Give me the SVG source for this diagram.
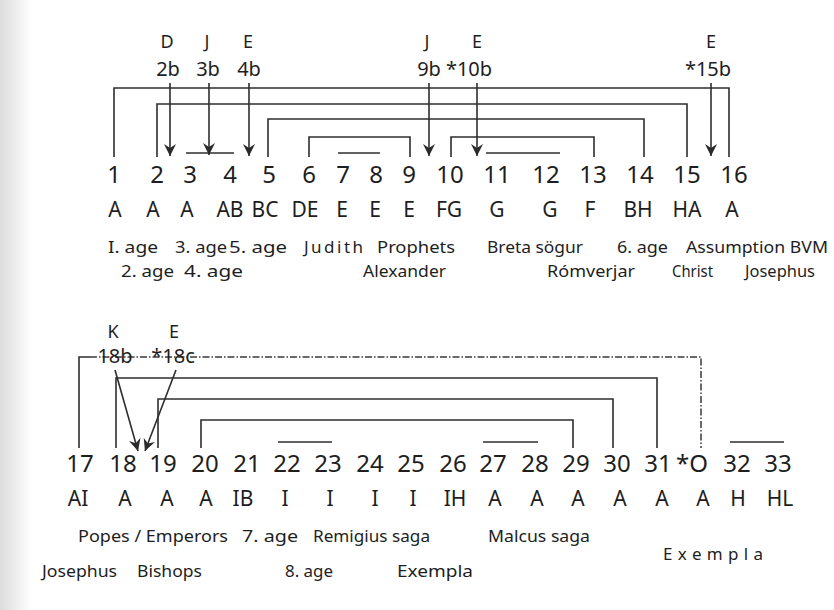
<svg xmlns="http://www.w3.org/2000/svg" width="834" height="610" viewBox="0 0 834 610">
<defs>
<linearGradient id="edge" x1="0" y1="0" x2="1" y2="0">
<stop offset="0" stop-color="#dcdcdc"/>
<stop offset="1" stop-color="#ffffff"/>
</linearGradient>
<marker id="ah" markerUnits="userSpaceOnUse" markerWidth="14" markerHeight="14" viewBox="0 0 14 14" refX="7" refY="13" orient="auto-start-reverse">
<path d="M1,1 L7,13 L13,1 L7,5 Z" fill="#2a2a2a" transform="rotate(-90 7 7)"/>
</marker>
<marker id="ah2" markerUnits="userSpaceOnUse" markerWidth="14" markerHeight="14" viewBox="0 0 14 14" refX="13" refY="7" orient="auto">
<path d="M1,1 L13,7 L1,13 L5,7 Z" fill="#2a2a2a"/>
</marker>
</defs>
<style>
.ln{fill:none;stroke:#2e2e2e;stroke-width:1.6}
.dd{fill:none;stroke:#3a3a3a;stroke-width:1.5;stroke-dasharray:7,2,1.5,2}
.ar{fill:none;stroke:#2e2e2e;stroke-width:1.6;marker-end:url(#ah2)}
.num{font-family:"Noto Sans","Open Sans",sans-serif;font-size:24px;fill:#1e1e1e;text-anchor:middle}
.let{font-family:"Noto Sans","Open Sans",sans-serif;font-size:21px;fill:#1e1e1e;text-anchor:middle}
.lab{font-family:"Noto Sans","Open Sans",sans-serif;font-size:17px;fill:#1e1e1e}
.sig{font-family:"Noto Sans","Open Sans",sans-serif;font-size:18px;fill:#1e1e1e;text-anchor:middle}
.sib{font-family:"Noto Sans","Open Sans",sans-serif;font-size:20px;fill:#1e1e1e;text-anchor:middle}
</style>
<rect width="834" height="610" fill="#ffffff"/>
<rect x="0" y="0" width="32" height="610" fill="url(#edge)"/>

<g id="connectors">
<!-- top brackets -->
<path class="ln" d="M114,157 V88 H729 V157"/>
<path class="ln" d="M157,157 V104 H687 V157"/>
<path class="ln" d="M268,157 V119 H644 V157"/>
<path class="ln" d="M309,157 V137 H410 V157"/>
<path class="ln" d="M451,157 V137 H594 V157"/>
<path class="ln" d="M186,153 H234"/>
<path class="ln" d="M338,153 H380"/>
<path class="ln" d="M486,153 H560"/>
<!-- top arrows -->
<path class="ar" d="M170,83 V156"/>
<path class="ar" d="M209,83 V155"/>
<path class="ar" d="M249,83 V156"/>
<path class="ar" d="M429,83 V156"/>
<path class="ar" d="M477,83 V156"/>
<path class="ar" d="M711,83 V156"/>
<!-- bottom brackets -->
<path class="ln" d="M79,448 V357 H90"/>
<path class="dd" d="M90,357 H701 V448"/>
<path class="ln" d="M116,448 V378 H657 V448"/>
<path class="ln" d="M158,448 V399 H613 V448"/>
<path class="ln" d="M201,448 V420 H573 V448"/>
<path class="ln" d="M278,442 H332"/>
<path class="ln" d="M483,442 H538"/>
<path class="ln" d="M730,442 H784"/>
<!-- bottom arrows -->
<path class="ar" d="M115,370 L138,451"/>
<path class="ar" d="M176,370 L145,451"/>
</g>

<g id="sigla-top">
<text class="sig" x="167" y="48">D</text>
<text class="sig" x="207" y="48">J</text>
<text class="sig" x="248" y="48">E</text>
<text class="sib" x="168" y="76">2b</text>
<text class="sib" x="208" y="76">3b</text>
<text class="sib" x="249" y="76">4b</text>
<text class="sig" x="427" y="48">J</text>
<text class="sig" x="477" y="48">E</text>
<text class="sib" x="429" y="76">9b</text>
<text class="sib" x="469" y="76">*10b</text>
<text class="sig" x="711" y="48">E</text>
<text class="sib" x="708" y="76">*15b</text>
</g>

<g id="numbers-top">
<text class="num" x="114" y="183">1</text>
<text class="num" x="157" y="183">2</text>
<text class="num" x="190" y="183">3</text>
<text class="num" x="230" y="183">4</text>
<text class="num" x="269" y="183">5</text>
<text class="num" x="309" y="183">6</text>
<text class="num" x="343" y="183">7</text>
<text class="num" x="376" y="183">8</text>
<text class="num" x="409" y="183">9</text>
<text class="num" x="450" y="183">10</text>
<text class="num" x="497" y="183">11</text>
<text class="num" x="546" y="183">12</text>
<text class="num" x="593" y="183">13</text>
<text class="num" x="640" y="183">14</text>
<text class="num" x="687" y="183">15</text>
<text class="num" x="734" y="183">16</text>
</g>

<g id="letters-top">
<text class="let" x="115" y="217">A</text>
<text class="let" x="153" y="217">A</text>
<text class="let" x="187" y="217">A</text>
<text class="let" x="230" y="217">AB</text>
<text class="let" x="265" y="217">BC</text>
<text class="let" x="305" y="217">DE</text>
<text class="let" x="342" y="217">E</text>
<text class="let" x="375" y="217">E</text>
<text class="let" x="409" y="217">E</text>
<text class="let" x="449" y="217">FG</text>
<text class="let" x="497" y="217">G</text>
<text class="let" x="550" y="217">G</text>
<text class="let" x="590" y="217">F</text>
<text class="let" x="638" y="217">BH</text>
<text class="let" x="687" y="217">HA</text>
<text class="let" x="732" y="217">A</text>
</g>

<g id="labels-top">
<text class="lab" x="108" y="253" textLength="50" lengthAdjust="spacingAndGlyphs">I. age</text>
<text class="lab" x="175" y="253" textLength="52" lengthAdjust="spacingAndGlyphs">3. age</text>
<text class="lab" x="229" y="253" textLength="58" lengthAdjust="spacingAndGlyphs">5. age</text>
<text class="lab" x="304" y="253" textLength="59" lengthAdjust="spacing">J u d i t h</text>
<text class="lab" x="377" y="253" textLength="78" lengthAdjust="spacingAndGlyphs">Prophets</text>
<text class="lab" x="487" y="253" textLength="96" lengthAdjust="spacingAndGlyphs">Breta sögur</text>
<text class="lab" x="617" y="253" textLength="51" lengthAdjust="spacingAndGlyphs">6. age</text>
<text class="lab" x="686" y="253" textLength="142" lengthAdjust="spacingAndGlyphs">Assumption BVM</text>
<text class="lab" x="121" y="277" textLength="53" lengthAdjust="spacingAndGlyphs">2. age</text>
<text class="lab" x="184" y="277" textLength="59" lengthAdjust="spacingAndGlyphs">4. age</text>
<text class="lab" x="363" y="277" textLength="83" lengthAdjust="spacingAndGlyphs">Alexander</text>
<text class="lab" x="547" y="277" textLength="88" lengthAdjust="spacingAndGlyphs">Rómverjar</text>
<text class="lab" x="672" y="277" textLength="41" lengthAdjust="spacingAndGlyphs">Christ</text>
<text class="lab" x="745" y="277" textLength="70" lengthAdjust="spacingAndGlyphs">Josephus</text>
</g>

<g id="sigla-bottom">
<text class="sig" x="113" y="338">K</text>
<text class="sig" x="174" y="338">E</text>
<text class="sib" x="115" y="363">18b</text>
<text class="sib" x="173" y="363">*18c</text>
</g>

<g id="numbers-bottom">
<text class="num" x="80" y="472">17</text>
<text class="num" x="123" y="472">18</text>
<text class="num" x="163" y="472">19</text>
<text class="num" x="205" y="472">20</text>
<text class="num" x="247" y="472">21</text>
<text class="num" x="287" y="472">22</text>
<text class="num" x="328" y="472">23</text>
<text class="num" x="370" y="472">24</text>
<text class="num" x="411" y="472">25</text>
<text class="num" x="453" y="472">26</text>
<text class="num" x="493" y="472">27</text>
<text class="num" x="535" y="472">28</text>
<text class="num" x="576" y="472">29</text>
<text class="num" x="617" y="472">30</text>
<text class="num" x="658" y="472">31</text>
<text class="num" x="692" y="472">*O</text>
<text class="num" x="737" y="472">32</text>
<text class="num" x="778" y="472">33</text>
</g>

<g id="letters-bottom">
<text class="let" x="78" y="506">AI</text>
<text class="let" x="125" y="506">A</text>
<text class="let" x="167" y="506">A</text>
<text class="let" x="206" y="506">A</text>
<text class="let" x="243" y="506">IB</text>
<text class="let" x="285" y="506">I</text>
<text class="let" x="330" y="506">I</text>
<text class="let" x="375" y="506">I</text>
<text class="let" x="413" y="506">I</text>
<text class="let" x="455" y="506">IH</text>
<text class="let" x="495" y="506">A</text>
<text class="let" x="537" y="506">A</text>
<text class="let" x="578" y="506">A</text>
<text class="let" x="620" y="506">A</text>
<text class="let" x="662" y="506">A</text>
<text class="let" x="703" y="506">A</text>
<text class="let" x="738" y="506">H</text>
<text class="let" x="780" y="506">HL</text>
</g>

<g id="labels-bottom">
<text class="lab" x="78" y="542" textLength="150" lengthAdjust="spacingAndGlyphs">Popes / Emperors</text>
<text class="lab" x="242" y="542" textLength="56" lengthAdjust="spacingAndGlyphs">7. age</text>
<text class="lab" x="313" y="542" textLength="117" lengthAdjust="spacingAndGlyphs">Remigius saga</text>
<text class="lab" x="488" y="542" textLength="102" lengthAdjust="spacingAndGlyphs">Malcus saga</text>
<text class="lab" x="663" y="560" textLength="100" lengthAdjust="spacing">E x e m p l a</text>
<text class="lab" x="42" y="577" textLength="75" lengthAdjust="spacingAndGlyphs">Josephus</text>
<text class="lab" x="137" y="577" textLength="65" lengthAdjust="spacingAndGlyphs">Bishops</text>
<text class="lab" x="285" y="577" textLength="48" lengthAdjust="spacingAndGlyphs">8. age</text>
<text class="lab" x="397" y="577" textLength="76" lengthAdjust="spacingAndGlyphs">Exempla</text>
</g>
</svg>
